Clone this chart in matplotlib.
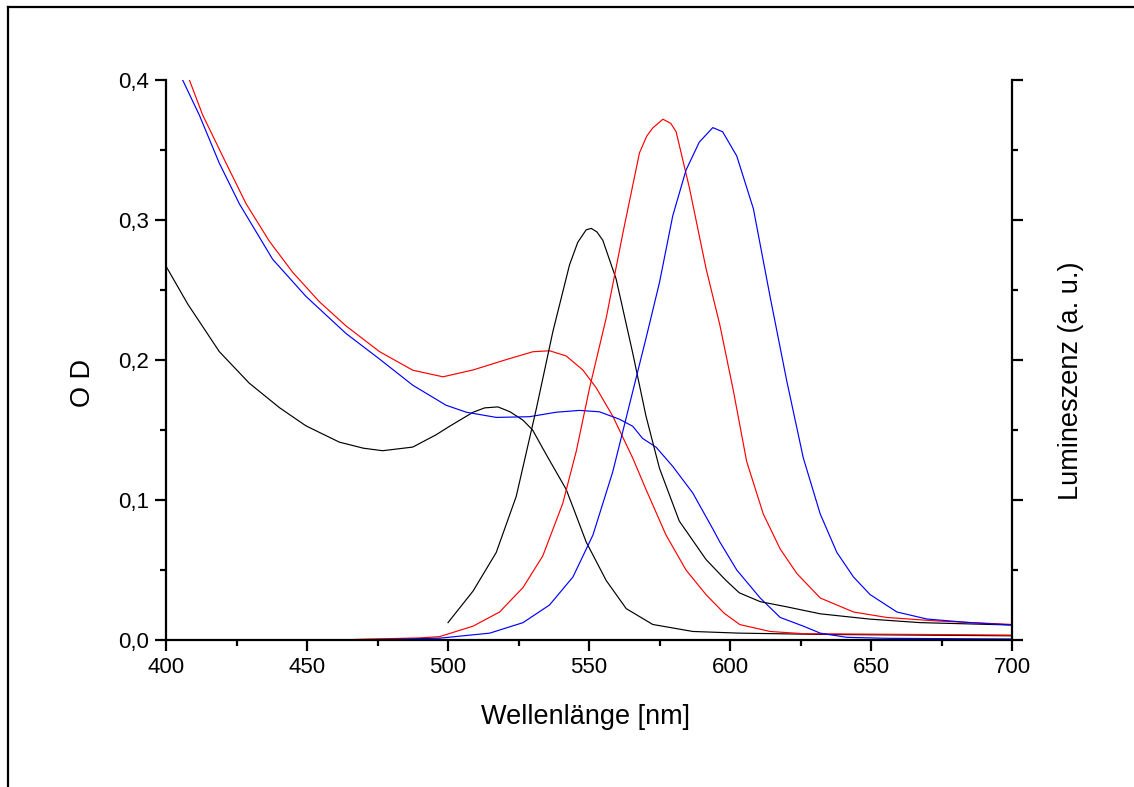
import matplotlib
matplotlib.use("Agg")
import matplotlib.pyplot as plt
from matplotlib.lines import Line2D
from matplotlib.ticker import MultipleLocator, FuncFormatter

# ---------------- data ----------------
abs_black_nm = [400, 407.7, 418.9, 429.5, 440.2, 449.6, 461.5, 470, 476.8, 487.5, 495.7,
                500.6, 508.9, 513, 517.7, 522, 526.6, 530, 534.8, 541.9, 544.3, 549,
                556.1, 563.2, 572.6, 586.8, 603.3, 632, 700]
abs_black = [0.267, 0.240, 0.206, 0.1835, 0.166, 0.153, 0.1413, 0.137, 0.1352, 0.1378, 0.1465,
             0.1527, 0.1627, 0.1658, 0.1665, 0.163, 0.157, 0.150, 0.1326, 0.1076, 0.095, 0.070,
             0.0425, 0.0224, 0.0111, 0.0061, 0.0049, 0.004, 0.003]

abs_red_nm = [405, 408.3, 413, 421.3, 428.4, 436.6, 444.9, 454.4, 463.8, 475.7, 487.5, 498.2,
              508.9, 520.7, 530.1, 536, 541.9, 547.8, 552.5, 558.4, 565.5, 570.2, 577.3, 584.4,
              591.5, 598, 603.5, 614.2, 626, 700]
abs_red = [0.412, 0.400, 0.375, 0.3406, 0.3116, 0.285, 0.2627, 0.2416, 0.2244, 0.206, 0.1927, 0.188,
           0.1929, 0.2003, 0.2059, 0.2066, 0.2029, 0.1929, 0.1803, 0.160, 0.130, 0.1076, 0.075, 0.050,
           0.0324, 0.019, 0.011, 0.0061, 0.0045, 0.0035]

abs_blue_nm = [403, 405.9, 411.8, 418.9, 426, 437.8, 449.6, 463.8, 475.7, 487.5, 499.3, 506.5,
               517.1, 528.9, 538.4, 546.6, 553.7, 560.8, 565.5, 569, 573.8, 579.7, 586.8, 594,
               596.4, 602.4, 610.7, 617.8, 626, 632, 641.4, 655.6, 700]
abs_blue = [0.415, 0.400, 0.375, 0.3406, 0.3116, 0.272, 0.2455, 0.219, 0.2007, 0.182, 0.1677, 0.1627,
            0.159, 0.1595, 0.1627, 0.164, 0.163, 0.1577, 0.1527, 0.144, 0.1377, 0.124, 0.105, 0.079,
            0.070, 0.050, 0.030, 0.0161, 0.0099, 0.0049, 0.0019, 0.0012, 0.0007]

em_black_nm = [500, 508.9, 517.1, 524.2, 531.3, 537.2, 543.1, 546, 549, 550.8, 552.8, 554.9, 559.6,
               565.5, 570.2, 575, 582, 591.5, 598.6, 603.3, 610.7, 620.1, 632, 649.7, 667.5, 700]
em_black = [0.0124, 0.035, 0.0625, 0.1026, 0.165, 0.2204, 0.268, 0.284, 0.293, 0.294, 0.2915, 0.2855, 0.258,
            0.205, 0.160, 0.1226, 0.085, 0.0575, 0.0425, 0.0337, 0.0274, 0.0237, 0.0187, 0.0149, 0.0124, 0.0107]

em_red_nm = [462, 470, 480, 490, 497, 508.9, 518.3, 526.6, 533.6, 540.7, 545.5, 550.2, 556.1, 562,
             567.9, 570.5, 572.6, 576.2, 579, 580.9, 585.6, 591.5, 596.4, 601.2, 605.9, 611.8, 617.8,
             623.7, 632, 643.8, 655.6, 673.4, 700]
em_red = [0.0, 0.0006, 0.001, 0.0015, 0.0024, 0.0099, 0.020, 0.0375, 0.060, 0.0976, 0.135, 0.180, 0.230, 0.2905,
          0.348, 0.360, 0.3657, 0.372, 0.369, 0.363, 0.323, 0.2654, 0.225, 0.178, 0.1276, 0.090, 0.065,
          0.0475, 0.030, 0.020, 0.0161, 0.0136, 0.0111]

em_blue_nm = [460, 480, 497, 514.8, 526.6, 536, 544.3, 551.4, 558.4, 564.3, 570.2, 575, 579.7, 584.4,
              589.1, 593.9, 597.4, 602.4, 608.3, 614.2, 620.1, 626, 632, 637.9, 643.8, 649.7, 659.2,
              669.8, 685.2, 700]
em_blue = [0.0, 0.0005, 0.0013, 0.0049, 0.0124, 0.025, 0.045, 0.075, 0.120, 0.1677, 0.2154, 0.2554, 0.303, 0.3356,
           0.3556, 0.366, 0.363, 0.3457, 0.308, 0.2454, 0.1853, 0.130, 0.090, 0.0625, 0.045, 0.0324, 0.020,
           0.015, 0.0124, 0.0107]

x_label = "Wellenlänge [nm]"
y_label = "O D"
y2_label = "Lumineszenz (a. u.)"

# ---------------- figure ----------------
plt.rcParams['font.family'] = ['Liberation Sans', 'DejaVu Sans']
W, H = 1134, 787
fig = plt.figure(figsize=(W / 100, H / 100), dpi=100)
ax = fig.add_axes([166 / W, 1 - 640 / H, 846 / W, 560 / H])

lw = 0.85
ax.plot(abs_black_nm, abs_black, color='black', lw=lw)
ax.plot(abs_red_nm, abs_red, color='#ff0000', lw=lw)
ax.plot(abs_blue_nm, abs_blue, color='#0000ff', lw=lw)
ax.plot(em_black_nm, em_black, color='black', lw=lw)
ax.plot(em_red_nm, em_red, color='#ff0000', lw=lw)
ax.plot(em_blue_nm, em_blue, color='#0000ff', lw=lw)

ax.set_xlim(400, 700)
ax.set_ylim(0, 0.4)
ax.xaxis.set_major_locator(MultipleLocator(50))
ax.xaxis.set_minor_locator(MultipleLocator(25))
ax.yaxis.set_major_locator(MultipleLocator(0.1))
ax.yaxis.set_minor_locator(MultipleLocator(0.05))
ax.yaxis.set_major_formatter(FuncFormatter(lambda v, p: f"{v:.1f}".replace('.', ',')))

ax.spines['top'].set_visible(False)
for s in ['left', 'right', 'bottom']:
    ax.spines[s].set_linewidth(1.6)
ax.tick_params(which='both', direction='out', right=True, top=False, labelright=False,
               width=1.6, labelsize=16, colors='black')
ax.tick_params(which='major', length=8, pad=4)
ax.tick_params(which='minor', length=4.3)

fig.text(585 / W, 1 - 717 / H, x_label, ha='center', va='center', fontsize=19.5)
fig.text(83 / W, 1 - 383 / H, y_label, ha='center', va='center', fontsize=19.5, rotation=90)
fig.text(1071 / W, 1 - 381 / H, y2_label, ha='center', va='center', fontsize=19.5, rotation=90)

# outer frame (top and left edges visible)
fig.add_artist(Line2D([8 / W, 8 / W], [0, 1 - 7 / H], transform=fig.transFigure, color='black', lw=1.6))
fig.add_artist(Line2D([8 / W, 1], [1 - 7 / H, 1 - 7 / H], transform=fig.transFigure, color='black', lw=1.6))

fig.savefig("out.png", dpi=100)
